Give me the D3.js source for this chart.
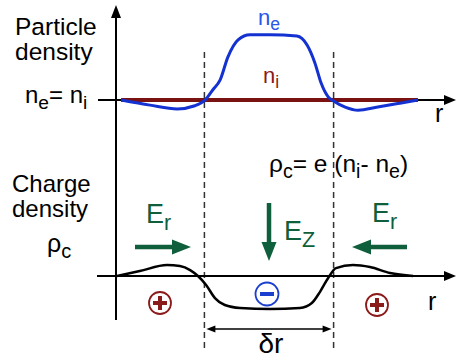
<!DOCTYPE html>
<html>
<head>
<meta charset="utf-8">
<script src="https://cdn.jsdelivr.net/npm/d3@7"></script>
<style>
  html, body { margin: 0; padding: 0; background: #fff; }
  svg { display: block; }
  text { font-family: Arial, "Liberation Sans", sans-serif; }
</style>
</head>
<body>
<svg id="chart" width="456" height="361"></svg>
<script>
// electron density n_e across the sheath (r arbitrary units, densities normalised so n_e = n_i = 1)
const neR   = [1.5, 10, 18, 23.2, 26.2, 28.5, 30.6, 32.9, 35.9, 39.4, 45.3, 53.2, 56.2, 58.5, 60.3, 62.4, 64.1, 67.4, 71.2, 77, 83.5, 88.8];
const neVal = [1.0, 0.92, 0.86, 0.91, 1.0, 1.16, 1.31, 1.67, 1.94, 2.02, 2.02, 2.0, 1.86, 1.58, 1.27, 1.05, 0.98, 0.89, 0.84, 0.89, 0.95, 1.0];

// ion density n_i (flat)
const niR   = [1.5, 88.8];
const niVal = [1, 1];

// charge density rho_c (normalised)
const rhoR   = [0.3, 7, 15, 18.8, 21.8, 24.1, 26.5, 29.1, 32, 36.5, 45.3, 54.1, 57.6, 60, 62.4, 64.7, 69.7, 74.7, 80.6, 87.4];
const rhoVal = [0, 0.15, 0.33, 0.30, 0.18, 0, -0.27, -0.67, -0.88, -0.97, -1, -0.97, -0.82, -0.48, -0.06, 0.24, 0.33, 0.27, 0.09, 0];

// sheath edges (dashed lines)
const sheathEdges = [26, 64];

const GREEN = '#0f5e3c', BLUE = '#1432d2', DARKRED = '#7a1212';

const svg = d3.select('#chart');

const x    = d3.scaleLinear().domain([0, 100]).range([116, 456]);
const yTop = d3.scaleLinear().domain([0, 2]).range([164, 36]);
const yBot = d3.scaleLinear().domain([-1, 1]).range([309, 243]);

const line = (xs, ys, yScale) => d3.line()
    .x(d => x(d[0]))
    .y(d => yScale(d[1]))
    .curve(d3.curveMonotoneX)(d3.zip(xs, ys));

// triangle head, tip at (tx,ty), pointing dir ('r','l','u','d')
function head(g, tx, ty, dir, len, half, color) {
    let pts;
    if (dir === 'r') pts = [[tx, ty], [tx - len, ty - half], [tx - len, ty + half]];
    if (dir === 'l') pts = [[tx, ty], [tx + len, ty - half], [tx + len, ty + half]];
    if (dir === 'u') pts = [[tx, ty], [tx - half, ty + len], [tx + half, ty + len]];
    if (dir === 'd') pts = [[tx, ty], [tx - half, ty - len], [tx + half, ty - len]];
    g.append('path').attr('d', 'M' + pts.join('L') + 'Z').attr('fill', color);
}

// text with sub-scripts: parts = [[str, isSub], ...]
function label(x0, y0, parts, size, color, anchor) {
    const t = svg.append('text')
        .attr('x', x0).attr('y', y0)
        .attr('font-size', size)
        .attr('fill', color || '#000')
        .attr('text-anchor', anchor || 'start');
    parts.forEach(([s, sub]) => {
        t.append('tspan')
            .attr('font-size', sub ? size * 0.8 : size)
            .attr('baseline-shift', sub ? '-30%' : null)
            .text(s);
    });
    return t;
}

// --- dashed sheath edges
svg.selectAll('.edge')
    .data(sheathEdges)
    .enter().append('line')
    .attr('class', 'edge')
    .attr('x1', d => x(d)).attr('x2', d => x(d))
    .attr('y1', 52).attr('y2', 348)
    .attr('stroke', '#333').attr('stroke-width', 1.5)
    .attr('stroke-dasharray', '6,4');

// --- axes
const axes = svg.append('g');
axes.append('line')
    .attr('x1', x(0)).attr('x2', x(0))
    .attr('y1', 320).attr('y2', 16)
    .attr('stroke', '#000').attr('stroke-width', 2);
head(axes, x(0), 5, 'u', 13, 5, '#000');

[[yTop, 1, 98], [yBot, 0, 97]].forEach(([ys, v, x0]) => {
    axes.append('line')
        .attr('x1', x0).attr('x2', 446)
        .attr('y1', ys(v)).attr('y2', ys(v))
        .attr('stroke', '#000').attr('stroke-width', 2);
    head(axes, 456, ys(v), 'r', 12, 5, '#000');
});

// --- density curves
svg.append('path')
    .attr('d', line(niR, niVal, yTop))
    .attr('fill', 'none').attr('stroke', DARKRED).attr('stroke-width', 4);

svg.append('path')
    .attr('d', line(neR, neVal, yTop))
    .attr('fill', 'none').attr('stroke', BLUE).attr('stroke-width', 3);

// --- charge density curve
svg.append('path')
    .attr('d', line(rhoR, rhoVal, yBot))
    .attr('fill', 'none').attr('stroke', '#000').attr('stroke-width', 2.5);

// --- field arrows
const fields = svg.append('g');
fields.append('line').attr('x1', 135).attr('x2', 175).attr('y1', 247).attr('y2', 247)
    .attr('stroke', GREEN).attr('stroke-width', 4.5);
head(fields, 191, 247, 'r', 19, 7.5, GREEN);

fields.append('line').attr('x1', 407).attr('x2', 368).attr('y1', 247).attr('y2', 247)
    .attr('stroke', GREEN).attr('stroke-width', 4.5);
head(fields, 352, 247, 'l', 19, 7.5, GREEN);

fields.append('line').attr('x1', 269).attr('x2', 269).attr('y1', 203).attr('y2', 244)
    .attr('stroke', GREEN).attr('stroke-width', 4.5);
head(fields, 269, 261, 'd', 19, 7.5, GREEN);

// --- charge signs
[[160, 303], [377, 305]].forEach(([cx, cy]) => {
    svg.append('circle').attr('cx', cx).attr('cy', cy).attr('r', 11)
        .attr('fill', 'none').attr('stroke', '#8b1a1a').attr('stroke-width', 1.8);
    svg.append('path').attr('d', `M${cx - 7},${cy}H${cx + 7}M${cx},${cy - 7}V${cy + 7}`)
        .attr('stroke', '#8b1a1a').attr('stroke-width', 4);
});
svg.append('circle').attr('cx', 267).attr('cy', 294).attr('r', 11.5)
    .attr('fill', 'none').attr('stroke', '#1a3fcf').attr('stroke-width', 1.8);
svg.append('path').attr('d', 'M260,294H274')
    .attr('stroke', '#1a3fcf').attr('stroke-width', 4);

// --- delta r
const dr = svg.append('g');
dr.append('line').attr('x1', x(sheathEdges[0]) + 8).attr('x2', x(sheathEdges[1]) - 8)
    .attr('y1', 329).attr('y2', 329).attr('stroke', '#000').attr('stroke-width', 1.5);
head(dr, x(sheathEdges[0]) + 2, 329, 'l', 9, 3.5, '#000');
head(dr, x(sheathEdges[1]) - 2, 329, 'r', 9, 3.5, '#000');

// --- labels
label(15, 35, [['Particle']], 24.5);
label(15, 60, [['density']], 24.5);
label(25, 103, [['n'], ['e', 1], ['= n'], ['i', 1]], 24);
label(258, 25, [['n'], ['e', 1]], 22, '#2b55e8');
label(263, 83, [['n'], ['i', 1]], 22, '#8b1a1a');
label(435, 122, [['r']], 25);
label(269, 172, [['ρ'], ['c', 1], ['= e (n'], ['i', 1], ['- n'], ['e', 1], [')']], 24.5);
label(12, 192, [['Charge']], 24);
label(12, 217, [['density']], 24);
label(47, 252, [['ρ'], ['c', 1]], 25);
label(146, 223, [['E'], ['r', 1]], 27, GREEN);
label(284, 240, [['E'], ['Z', 1]], 27, GREEN);
label(372, 222, [['E'], ['r', 1]], 27, GREEN);
label(428, 310, [['r']], 25);
label(271, 353, [['δr']], 28, '#000', 'middle');
</script>
</body>
</html>
